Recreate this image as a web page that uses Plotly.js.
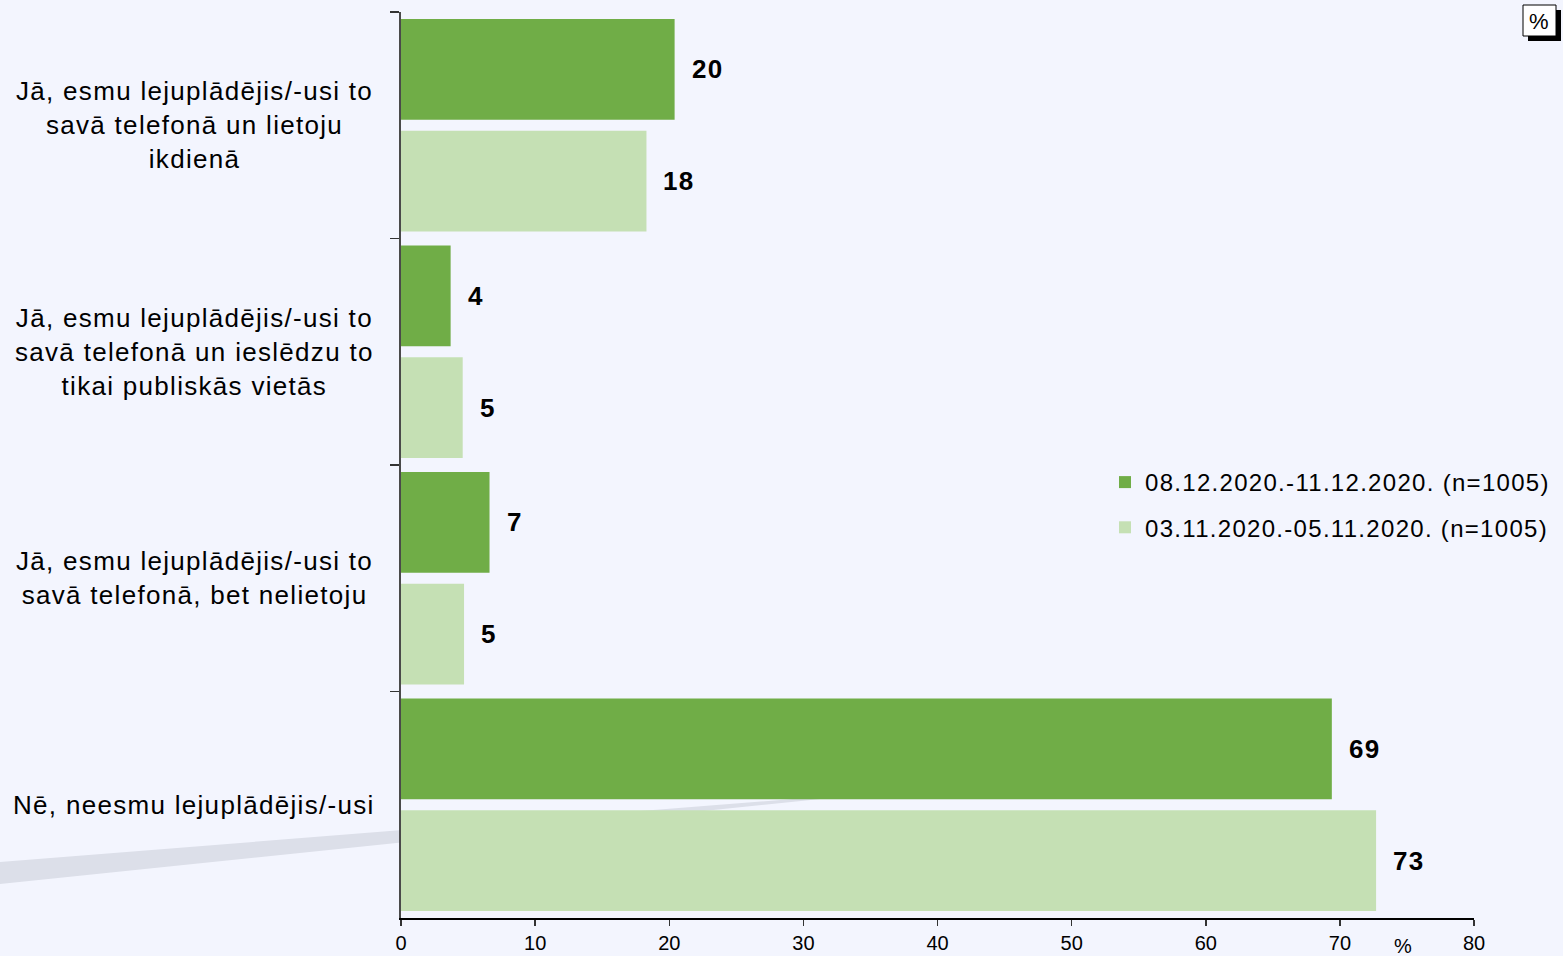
<!DOCTYPE html>
<html>
<head>
<meta charset="utf-8">
<script src="https://cdn.plot.ly/plotly-3.0.1.min.js"></script>
<style>
  html, body { margin: 0; padding: 0; background: #F3F5FE; }
  #chart { width: 1563px; height: 956px; }
  .annotation-text, .legendtext { letter-spacing: 1.3px; }
</style>
</head>
<body>
<div id="chart"></div>
<script>
// ---- DATA ----
const categories = [
  "Jā, esmu lejuplādējis/-usi to<br>savā telefonā un lietoju<br>ikdienā",
  "Jā, esmu lejuplādējis/-usi to<br>savā telefonā un ieslēdzu to<br>tikai publiskās vietās",
  "Jā, esmu lejuplādējis/-usi to<br>savā telefonā, bet nelietoju",
  "Nē, neesmu lejuplādējis/-usi"
];
const seriesNames = [
  "08.12.2020.-11.12.2020. (n=1005)",
  "03.11.2020.-05.11.2020. (n=1005)"
];
const valuesDec = [20.4, 3.7, 6.6, 69.4];
const valuesNov = [18.3, 4.6, 4.7, 72.7];
const xTicks = [0, 10, 20, 30, 40, 50, 60, 70, 80];

// ---- STYLE ----
const colors = ["#70AD47", "#C5E0B4"];
const bg = "#F3F5FE";
const FONT = "Liberation Sans, Arial, sans-serif";

// plot area geometry in pixels
const L = 401, R = 1474, T = 12, B = 918;
const PX = px => (px - L) / (R - L);
const PY = py => (B - py) / (B - T);

const seriesValues = [valuesDec, valuesNov];

const traces = seriesValues.map((vals, i) => ({
  type: "bar",
  orientation: "h",
  name: seriesNames[i],
  legendgroup: "g" + i,
  x: vals,
  y: categories,
  marker: { color: colors[i] },
  hoverinfo: "skip"
}));

const annotations = [];
// category labels
categories.forEach(c => {
  annotations.push({
    xref: "paper", yref: "y", x: PX(194), y: c,
    xanchor: "center", yanchor: "middle",
    text: c, showarrow: false, align: "center",
    font: { family: FONT, size: 26, color: "#000" }
  });
});
// value labels
seriesValues.forEach((vals, i) => {
  vals.forEach((v, j) => {
    annotations.push({
      xref: "x", yref: "y", x: v, y: categories[j],
      xanchor: "left", yanchor: "middle",
      xshift: 15, yshift: i === 0 ? 56 : -56,
      text: String(Math.round(v)), showarrow: false,
      font: { family: FONT, size: 26, color: "#000", weight: "bold" }
    });
  });
});
// bottom % label
annotations.push({
  xref: "paper", yref: "paper", x: PX(1403), y: PY(946),
  xanchor: "center", yanchor: "middle",
  text: "%", showarrow: false,
  font: { family: FONT, size: 20, color: "#000" }
});
// top-right % box label
annotations.push({
  xref: "paper", yref: "paper", x: PX(1539), y: PY(21),
  xanchor: "center", yanchor: "middle",
  text: "%", showarrow: false,
  font: { family: FONT, size: 22, color: "#000" }
});

const shapes = [
  // decorative grey stripe
  {
    type: "path", xref: "paper", yref: "paper", layer: "below",
    path: `M ${PX(0)} ${PY(862)} L ${PX(830)} ${PY(796)} L ${PX(830)} ${PY(798)} L ${PX(0)} ${PY(884)} Z`,
    fillcolor: "#DCDFE9", line: { width: 0 }
  },
  // % box shadow
  {
    type: "rect", xref: "paper", yref: "paper",
    x0: PX(1528), x1: PX(1561), y0: PY(41), y1: PY(10),
    fillcolor: "#000", line: { width: 0 }
  },
  // % box
  {
    type: "rect", xref: "paper", yref: "paper",
    x0: PX(1523), x1: PX(1556), y0: PY(36), y1: PY(5),
    fillcolor: "#FFFFFF", line: { color: "#000", width: 1 }
  }
];

const layout = {
  width: 1563, height: 956,
  paper_bgcolor: bg, plot_bgcolor: bg,
  margin: { l: L, r: 1563 - R, t: T, b: 956 - B, pad: 0, autoexpand: false },
  barmode: "group",
  bargap: 0.013,
  bargroupgap: 0.1,
  showlegend: true,
  legend: {
    x: PX(1105), y: PY(460), xanchor: "left", yanchor: "top",
    bgcolor: "rgba(0,0,0,0)",
    font: { family: FONT, size: 24, color: "#000" },
    traceorder: "grouped", tracegroupgap: 11,
    itemwidth: 30
  },
  xaxis: {
    range: [0, 80], tickvals: xTicks, ticktext: xTicks.map(String),
    showgrid: false, zeroline: false,
    showline: true, linecolor: "#000", linewidth: 1.5,
    ticks: "outside", ticklen: 6, tickcolor: "#333", tickwidth: 1.5,
    tickfont: { family: FONT, size: 20, color: "#000" },
    fixedrange: true
  },
  yaxis: {
    type: "category",
    categoryorder: "array", categoryarray: categories,
    range: [3.5, -0.5],
    showgrid: false, zeroline: false,
    showline: true, linecolor: "#4A4A4A", linewidth: 2,
    ticks: "outside", tickson: "boundaries", ticklen: 9, tickcolor: "#333", tickwidth: 1.5,
    showticklabels: false,
    fixedrange: true
  },
  annotations: annotations,
  shapes: shapes
};

Plotly.newPlot("chart", traces, layout, { displayModeBar: false, staticPlot: true });
</script>
</body>
</html>
